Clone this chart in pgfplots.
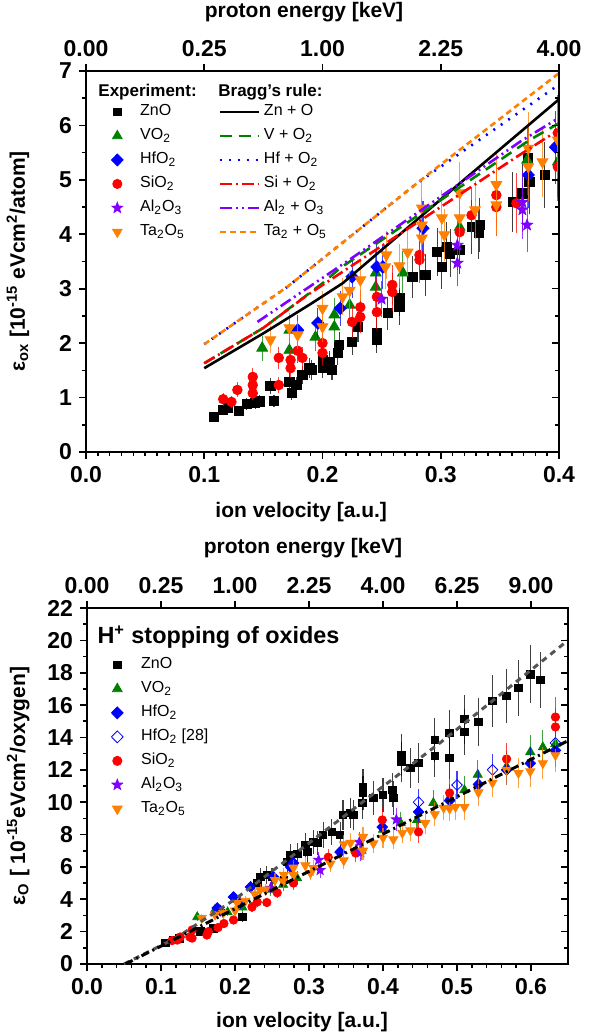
\documentclass[border=0pt]{standalone}
\usepackage{fontspec}
\setmainfont{Liberation Sans}
\usepackage{pgfplots}
\pgfplotsset{compat=1.18}
\usetikzlibrary{plotmarks}

\definecolor{cgreen}{RGB}{0,128,0}
\definecolor{cblue}{RGB}{0,0,255}
\definecolor{cred}{RGB}{255,0,0}
\definecolor{cviolet}{RGB}{128,0,255}
\definecolor{corange}{RGB}{255,128,0}
\definecolor{cgrey}{RGB}{85,85,85}

% filled five-pointed star
\pgfdeclareplotmark{fstar}{%
  \pgfpathmoveto{\pgfpointpolar{90}{\pgfplotmarksize}}%
  \pgfpathlineto{\pgfpointpolar{126}{0.42\pgfplotmarksize}}%
  \pgfpathlineto{\pgfpointpolar{162}{\pgfplotmarksize}}%
  \pgfpathlineto{\pgfpointpolar{198}{0.42\pgfplotmarksize}}%
  \pgfpathlineto{\pgfpointpolar{234}{\pgfplotmarksize}}%
  \pgfpathlineto{\pgfpointpolar{270}{0.42\pgfplotmarksize}}%
  \pgfpathlineto{\pgfpointpolar{306}{\pgfplotmarksize}}%
  \pgfpathlineto{\pgfpointpolar{342}{0.42\pgfplotmarksize}}%
  \pgfpathlineto{\pgfpointpolar{18}{\pgfplotmarksize}}%
  \pgfpathlineto{\pgfpointpolar{54}{0.42\pgfplotmarksize}}%
  \pgfpathclose\pgfusepathqfillstroke}

\pgfplotsset{
  panel/.style={scale only axis, anchor=south west,
    axis line style={line width=0.9pt}, tick style={line width=0.8pt, black},
    major tick length=3.5pt, minor tick length=2pt, tick align=outside,
    tick label style={font=\fontsize{11.5}{13}\selectfont\bfseries},
    label style={font=\fontsize{10.5}{12}\selectfont\bfseries},
    /pgf/number format/assume math mode=true,
    clip marker paths=true},
  exp/.style={only marks, mark options={solid},
    error bars/y dir=both, error bars/y fixed relative=#1,
    error bars/error mark=none,
    error bars/error bar style={line width=0.55pt, opacity=0.75}},
  bragg/.style={legend image code/.code={\draw[##1] (0pt,0pt)--(19.5pt,0pt);}},
  leg/.style={draw=none, fill=none, inner sep=0pt, row sep=0pt, column sep=0pt,
    font=\fontsize{8}{9.6}\selectfont,
    nodes={text height=6pt, text depth=2.5pt, inner ysep=1.75pt, inner xsep=#1}},
}

\begin{document}
\begin{tikzpicture}
\useasboundingbox (0,0) rectangle (301.5pt,518pt);

%================ top panel ================
\begin{axis}[panel, at={(43pt,292pt)}, width=236.5pt, height=190.5pt,
  xmin=0, xmax=0.4, ymin=0, ymax=7,
  xtick={0,0.1,0.2,0.3,0.4}, xticklabels={0.0,0.1,0.2,0.3,0.4}, minor x tick num=9,
  ytick={0,1,2,3,4,5,6,7}, yticklabels={0,1,2,3,4,5,6,7}, minor y tick num=1,
  xtick pos=bottom, ytick pos=left,
  xlabel={ion velocity [a.u.]},
  ylabel={ε\textsubscript{ox} [10\textsuperscript{-15} eVcm\textsuperscript{2}/atom]},
  xlabel style={at={(axis description cs:0.455,-0.157)}, anchor=center},
  ylabel style={at={(axis description cs:-0.144,0.5)}, anchor=center},
  legend style={leg=8.5pt, at={(axis description cs:0.053,0.735)}, anchor=west},
  legend cell align=left]

\addplot[exp=0.12, black, mark=square*, mark size=2.3pt, forget plot] coordinates {
(0.108,0.65)(0.116,0.77)(0.120,0.81)(0.129,0.75)(0.136,0.88)(0.143,0.90)(0.147,0.93)
(0.156,1.21)(0.159,0.94)(0.172,1.29)(0.174,1.08)(0.178,1.23)(0.183,1.41)(0.189,1.54)
(0.191,1.51)(0.200,1.54)(0.200,1.69)(0.206,1.65)(0.208,1.51)(0.213,1.82)(0.214,1.97)
(0.225,2.02)(0.230,2.30)(0.246,2.19)(0.246,2.06)(0.255,2.55)(0.265,2.83)(0.265,2.66)
(0.276,3.22)(0.287,3.25)(0.297,3.67)(0.301,3.40)(0.305,3.77)(0.308,3.65)(0.316,3.71)
(0.326,4.13)(0.333,4.17)(0.332,4.02)(0.361,4.59)(0.369,4.75)(0.375,4.96)(0.374,5.40)
(0.388,5.09)};
\addplot[exp=0.12, cgreen, mark=triangle*, mark size=3.1pt, forget plot] coordinates {
(0.149,1.91)(0.172,2.24)(0.172,1.87)(0.194,2.11)(0.210,2.52)(0.210,2.30)(0.223,2.70)
(0.245,3.03)(0.245,3.29)(0.268,3.29)(0.316,4.13)(0.373,5.36)(0.399,5.33)};
\addplot[exp=0.12, cblue, mark=diamond*, mark size=3.1pt, mark options={xscale=1.3}, forget plot] coordinates {
(0.179,2.24)(0.196,2.37)(0.215,2.64)(0.225,3.22)(0.246,3.40)(0.251,3.40)(0.285,4.11)
(0.374,5.09)(0.397,5.60)};
\addplot[exp=0.12, cred, mark=*, mark size=2.4pt, forget plot] coordinates {
(0.116,0.97)(0.123,0.92)(0.128,1.14)(0.141,1.38)(0.141,1.23)(0.141,1.08)(0.163,1.73)
(0.163,1.23)(0.173,1.69)(0.173,1.54)(0.179,1.86)(0.183,1.73)(0.200,2.00)(0.200,1.82)
(0.225,2.39)(0.232,2.66)(0.232,2.48)(0.246,2.85)(0.246,2.57)(0.259,3.07)(0.259,2.94)
(0.282,3.62)(0.282,3.53)(0.316,4.04)(0.326,4.35)(0.347,4.72)(0.347,4.50)(0.364,4.57)
(0.399,5.86)(0.399,5.24)};
\addplot[exp=0.12, cviolet, mark=fstar, mark size=2.9pt, forget plot] coordinates {
(0.250,2.81)(0.314,3.80)(0.314,3.47)(0.369,4.59)(0.369,4.45)(0.373,4.17)};
\addplot[exp=0.12, corange, mark=triangle*, mark size=3.1pt, mark options={rotate=180}, forget plot] coordinates {
(0.156,2.06)(0.172,2.28)(0.179,2.15)(0.200,2.64)(0.200,2.30)(0.217,2.85)(0.223,2.97)
(0.232,3.16)(0.253,3.40)(0.254,3.62)(0.265,3.42)(0.272,3.67)(0.284,4.48)(0.284,4.17)
(0.284,3.93)(0.301,4.30)(0.303,3.99)(0.316,4.76)(0.316,4.30)(0.329,4.45)(0.347,4.91)
(0.347,4.54)(0.374,5.58)(0.374,5.24)(0.386,5.33)(0.399,5.73)};

% Bragg's rule curves
\addplot[black, line width=1.3pt, forget plot] coordinates {
(0.1,1.54)(0.15,2.18)(0.19,2.72)(0.217,3.10)(0.3,4.64)(0.4,6.48)};
\addplot[cgreen, line width=1.3pt, dash pattern=on 6pt off 3.5pt, forget plot] coordinates {
(0.1,1.63)(0.15,2.28)(0.2,3.10)(0.215,3.38)(0.375,5.73)(0.4,6.04)};
\addplot[cblue, line width=1.3pt, dash pattern=on 1pt off 3.5pt, forget plot] coordinates {
(0.1,1.98)(0.17,3.03)(0.28,4.94)(0.4,6.75)};
\addplot[cred, line width=1.3pt, dash pattern=on 6pt off 2pt on 1pt off 2pt, forget plot] coordinates {
(0.1,1.63)(0.15,2.28)(0.187,2.88)(0.364,5.42)(0.4,5.92)};
\addplot[cviolet, line width=1.3pt, dash pattern=on 6pt off 2pt on 1pt off 2pt on 1pt off 2pt, forget plot] coordinates {
(0.145,2.39)(0.226,3.58)(0.367,5.70)(0.4,6.14)};
\addplot[corange, line width=1.3pt, dash pattern=on 3pt off 2pt, forget plot] coordinates {
(0.1,1.98)(0.17,3.03)(0.291,5.13)(0.4,6.96)};

\node[anchor=west, inner sep=0pt, font=\fontsize{8.5}{10}\selectfont\bfseries] at (axis description cs:0.0254,0.945) {Experiment:};
\node[anchor=west, inner sep=0pt, font=\fontsize{8.5}{10}\selectfont\bfseries] at (axis description cs:0.279,0.945) {Bragg's rule:};

\addlegendimage{only marks, black, mark=square*, mark size=1.9pt}
\addlegendentry{ZnO}
\addlegendimage{only marks, cgreen, mark=triangle*, mark size=2.8pt}
\addlegendentry{VO\textsubscript{2}}
\addlegendimage{only marks, cblue, mark=diamond*, mark size=3pt, mark options={xscale=1.3}}
\addlegendentry{HfO\textsubscript{2}}
\addlegendimage{only marks, cred, mark=*, mark size=2.3pt}
\addlegendentry{SiO\textsubscript{2}}
\addlegendimage{only marks, cviolet, mark=fstar, mark size=2.8pt}
\addlegendentry{Al\textsubscript{2}O\textsubscript{3}}
\addlegendimage{only marks, corange, mark=triangle*, mark size=2.8pt, mark options={rotate=180}}
\addlegendentry{Ta\textsubscript{2}O\textsubscript{5}}
\end{axis}

% top axis: proton energy
\begin{axis}[panel, at={(43pt,292pt)}, width=236.5pt, height=190.5pt,
  xmin=0, xmax=0.4, ymin=0, ymax=7,
  axis x line*=top, hide y axis,
  xtick={0,0.1,0.2,0.3,0.4}, xticklabels={0.00,0.25,1.00,2.25,4.00},
  xlabel={proton energy [keV]},
  xlabel style={at={(axis description cs:0.461,1.155)}, anchor=center}]
\end{axis}

% right axis with inner ticks, Bragg legend
\begin{axis}[panel, at={(43pt,292pt)}, width=236.5pt, height=190.5pt,
  xmin=0, xmax=0.4, ymin=0, ymax=7,
  axis y line*=right, hide x axis, tick align=inside,
  ytick={0,1,2,3,4,5,6,7}, yticklabels={}, minor y tick num=1,
  legend style={leg=2pt, at={(axis description cs:0.279,0.735)}, anchor=west},
  legend cell align=left]
\addlegendimage{bragg, black, line width=1.3pt}
\addlegendentry{Zn + O}
\addlegendimage{bragg, cgreen, line width=1.3pt, dash pattern=on 6pt off 3.5pt}
\addlegendentry{V + O\textsubscript{2}}
\addlegendimage{bragg, cblue, line width=1.3pt, dash pattern=on 1pt off 3.5pt}
\addlegendentry{Hf + O\textsubscript{2}}
\addlegendimage{bragg, cred, line width=1.3pt, dash pattern=on 6pt off 2pt on 1pt off 2pt}
\addlegendentry{Si + O\textsubscript{2}}
\addlegendimage{bragg, cviolet, line width=1.3pt, dash pattern=on 6pt off 2pt on 1pt off 2pt on 1pt off 2pt}
\addlegendentry{Al\textsubscript{2} + O\textsubscript{3}}
\addlegendimage{bragg, corange, line width=1.3pt, dash pattern=on 3pt off 2pt}
\addlegendentry{Ta\textsubscript{2} + O\textsubscript{5}}
\end{axis}

%================ bottom panel ================
\begin{axis}[panel, at={(43.5pt,36pt)}, width=240.5pt, height=178pt,
  xmin=0, xmax=0.65, ymin=0, ymax=22,
  xtick={0,0.1,0.2,0.3,0.4,0.5,0.6}, xticklabels={0.0,0.1,0.2,0.3,0.4,0.5,0.6}, minor x tick num=4,
  ytick={0,2,...,22}, yticklabels={0,2,4,6,8,10,12,14,16,18,20,22}, minor y tick num=1,
  xtick pos=bottom, ytick pos=left,
  xlabel={ion velocity [a.u.]},
  ylabel={ε\textsubscript{O} [ 10\textsuperscript{-15}eVcm\textsuperscript{2}/oxygen]},
  xlabel style={at={(axis description cs:0.447,-0.163)}, anchor=center},
  ylabel style={at={(axis description cs:-0.143,0.5)}, anchor=center},
  legend style={leg=9pt, at={(axis description cs:0.05,0.638)}, anchor=west},
  legend cell align=left]

\addplot[exp=0.1, black, mark=square*, mark size=1.9pt, forget plot] coordinates {
(0.106,1.30)(0.116,1.48)(0.125,1.60)(0.153,2.00)(0.171,2.20)(0.210,2.90)(0.230,5.00)
(0.234,5.38)(0.243,5.50)(0.250,5.38)(0.266,5.19)(0.271,6.30)(0.275,6.74)(0.284,6.80)
(0.295,7.35)(0.298,6.92)(0.306,7.54)(0.311,7.48)(0.319,7.97)(0.331,8.16)(0.342,7.97)
(0.346,9.21)(0.356,9.33)(0.360,9.21)(0.372,9.95)(0.373,10.57)(0.373,10.94)(0.387,10.26)
(0.400,10.44)(0.413,10.75)(0.414,10.26)(0.425,12.92)(0.425,12.48)(0.437,12.11)
(0.448,12.42)(0.470,13.84)(0.470,12.86)(0.490,14.28)(0.490,12.73)(0.510,15.14)
(0.510,14.34)(0.529,14.96)(0.548,16.25)(0.567,16.56)(0.583,17.06)(0.599,17.90)
(0.613,17.55)};
\addplot[exp=0.08, cgreen, mark=triangle*, mark size=2.6pt, forget plot] coordinates {
(0.149,2.90)(0.173,3.34)(0.190,3.20)(0.210,3.50)(0.248,4.60)(0.265,4.90)(0.284,5.30)
(0.371,7.00)(0.400,8.30)(0.424,8.70)(0.446,8.90)(0.468,9.95)(0.490,10.30)(0.510,10.75)
(0.528,11.70)(0.567,12.20)(0.599,13.10)(0.616,13.40)(0.633,13.60)};
\addplot[exp=0.08, cblue, mark=diamond*, mark size=2.7pt, mark options={xscale=1.3}, forget plot] coordinates {
(0.176,3.46)(0.180,3.30)(0.198,4.14)(0.207,3.77)(0.221,4.76)(0.252,5.38)(0.275,6.00)
(0.279,6.24)(0.342,6.92)(0.399,8.47)(0.448,9.40)(0.490,10.10)(0.529,11.10)(0.567,12.00)
(0.599,12.40)(0.633,13.20)};
\addplot[exp=0.08, cblue, mark=diamond, mark size=2.7pt, mark options={xscale=1.3, fill=white}, forget plot] coordinates {
(0.448,10.00)(0.500,11.06)(0.548,12.00)(0.633,13.66)};
\addplot[exp=0.08, cred, mark=*, mark size=2.1pt, forget plot] coordinates {
(0.115,1.45)(0.122,1.48)(0.126,1.67)(0.139,1.67)(0.142,2.10)(0.142,1.60)(0.162,1.79)
(0.164,2.00)(0.177,2.25)(0.185,2.50)(0.198,2.72)(0.223,3.52)(0.230,3.83)(0.243,3.80)
(0.257,4.40)(0.279,5.00)(0.326,6.60)(0.363,6.86)(0.399,8.90)(0.448,8.16)(0.490,10.57)
(0.567,12.67)(0.633,14.65)(0.633,15.26)};
\addplot[exp=0.08, cviolet, mark=fstar, mark size=2.6pt, forget plot] coordinates {
(0.248,4.70)(0.313,6.43)(0.315,5.80)(0.368,7.54)(0.370,6.90)(0.418,8.93)};
\addplot[exp=0.08, corange, mark=triangle*, mark size=2.6pt, mark options={rotate=180}, forget plot] coordinates {
(0.155,2.84)(0.173,3.05)(0.184,3.15)(0.200,3.30)(0.203,3.77)(0.214,3.90)(0.227,4.30)
(0.234,4.57)(0.241,4.60)(0.254,5.19)(0.265,5.10)(0.266,5.50)(0.279,5.95)(0.279,5.50)
(0.295,6.10)(0.302,5.62)(0.306,5.93)(0.329,6.20)(0.347,6.40)(0.347,7.40)(0.356,7.48)
(0.373,7.00)(0.373,7.85)(0.387,7.45)(0.400,7.80)(0.414,7.70)(0.426,8.10)(0.437,8.25)
(0.457,8.70)(0.470,9.25)(0.482,9.65)(0.490,9.60)(0.498,9.70)(0.510,9.70)(0.529,10.60)
(0.548,11.20)(0.567,12.00)(0.583,11.80)(0.599,11.90)(0.616,12.40)(0.633,12.90)};

% fits
\addplot[cgrey, line width=1.5pt, dash pattern=on 3pt off 2.5pt, forget plot] coordinates {
(0.05,0)(0.12,1.6)(0.2,4.0)(0.275,6.6)(0.478,13.7)(0.65,20.0)};
\addplot[black, line width=1.5pt, dash pattern=on 4pt off 2pt on 1pt off 2pt, forget plot] coordinates {
(0.052,0)(0.65,13.8)};

\node[anchor=west, inner sep=0pt, font=\fontsize{11.7}{14}\selectfont\bfseries] at (axis description cs:0.021,0.918) {H\textsuperscript{+} stopping of oxides};

\addlegendimage{only marks, black, mark=square*, mark size=1.9pt}
\addlegendentry{ZnO}
\addlegendimage{only marks, cgreen, mark=triangle*, mark size=2.8pt}
\addlegendentry{VO\textsubscript{2}}
\addlegendimage{only marks, cblue, mark=diamond*, mark size=3pt, mark options={xscale=1.3}}
\addlegendentry{HfO\textsubscript{2}}
\addlegendimage{only marks, cblue, mark=diamond, mark size=3pt, mark options={xscale=1.3, fill=white}}
\addlegendentry{HfO\textsubscript{2} [28]}
\addlegendimage{only marks, cred, mark=*, mark size=2.3pt}
\addlegendentry{SiO\textsubscript{2}}
\addlegendimage{only marks, cviolet, mark=fstar, mark size=2.8pt}
\addlegendentry{Al\textsubscript{2}O\textsubscript{3}}
\addlegendimage{only marks, corange, mark=triangle*, mark size=2.8pt, mark options={rotate=180}}
\addlegendentry{Ta\textsubscript{2}O\textsubscript{5}}
\end{axis}

\begin{axis}[panel, at={(43.5pt,36pt)}, width=240.5pt, height=178pt,
  xmin=0, xmax=0.65, ymin=0, ymax=22,
  axis x line*=top, hide y axis,
  xtick={0,0.1,0.2,0.3,0.4,0.5,0.6}, xticklabels={0.00,0.25,1.00,2.25,4.00,6.25,9.00},
  xlabel={proton energy [keV]},
  xlabel style={at={(axis description cs:0.449,1.169)}, anchor=center}]
\end{axis}

\begin{axis}[panel, at={(43.5pt,36pt)}, width=240.5pt, height=178pt,
  xmin=0, xmax=0.65, ymin=0, ymax=22,
  axis y line*=right, hide x axis, tick align=inside,
  ytick={0,2,...,22}, yticklabels={}, minor y tick num=1]
\end{axis}
\end{tikzpicture}
\end{document}
